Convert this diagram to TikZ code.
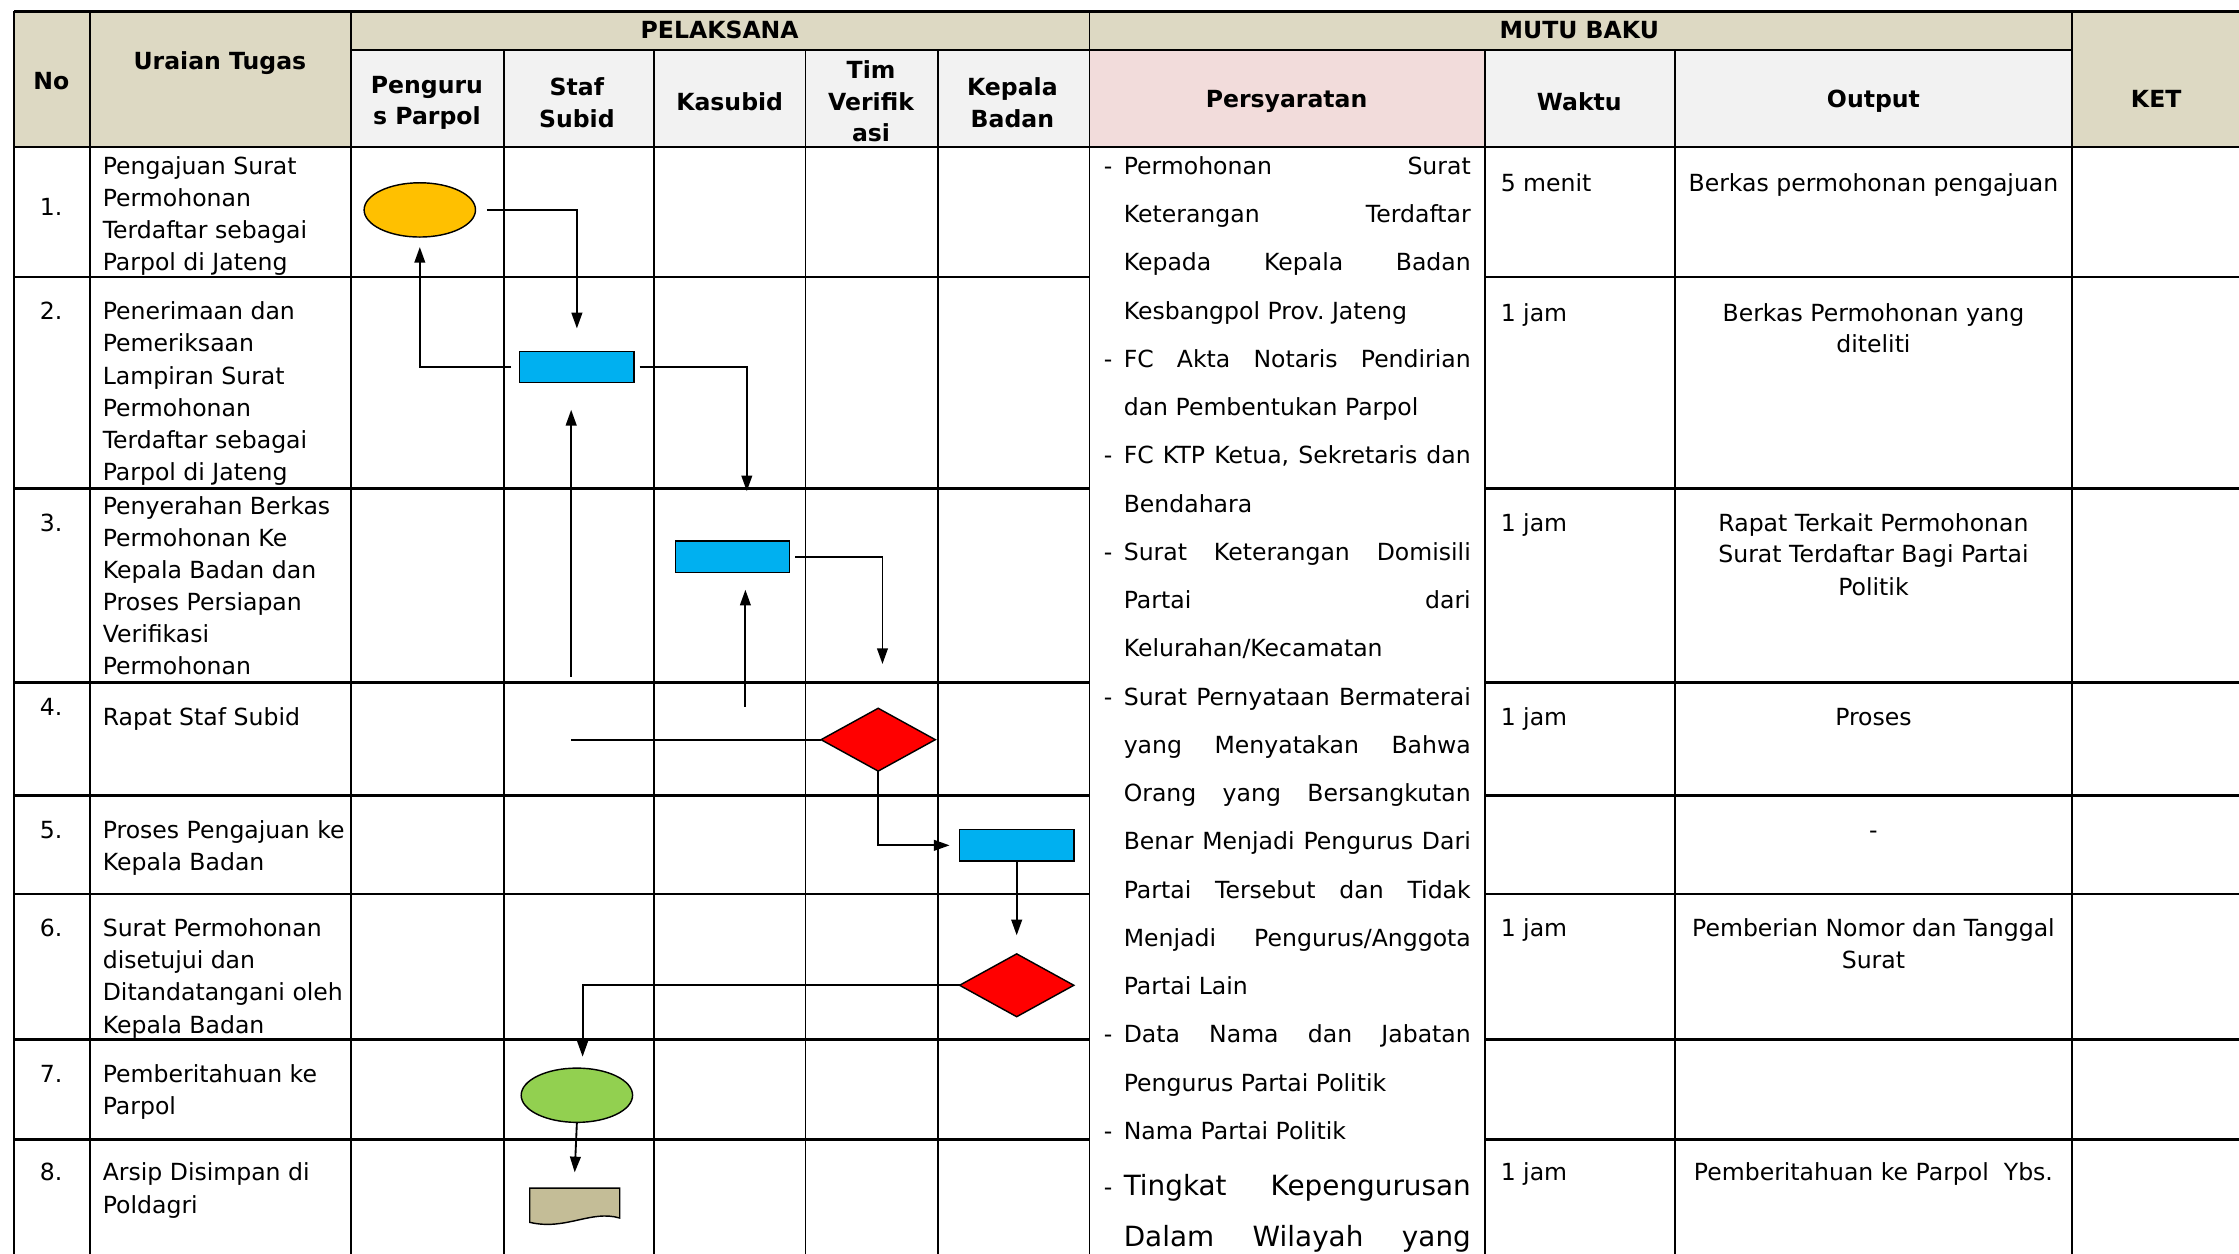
\documentclass[tikz,border=0pt]{standalone}
\usepackage{fontspec}
\setmainfont{DejaVu Sans}
\usetikzlibrary{shapes.geometric,arrows.meta}
\definecolor{hdrtan}{HTML}{DDD9C3}
\definecolor{hdrgray}{HTML}{F2F2F2}
\definecolor{hdrpink}{HTML}{F2DCDB}
\definecolor{fyellow}{HTML}{FFC000}
\definecolor{fblue}{HTML}{00B0F0}
\definecolor{fred}{HTML}{FF0000}
\definecolor{fgreen}{HTML}{92D050}
\definecolor{fdoc}{HTML}{C4BD97}
\frenchspacing
\begin{document}
\begin{tikzpicture}[x=1pt,y=-1pt,
  every node/.style={inner sep=0pt,outer sep=0pt,font=\fontsize{16.5}{22.5}\selectfont},
  hd/.style={font=\fontsize{16.5}{22}\selectfont\bfseries, align=center},
  txt/.style={anchor=base west},
  ctr/.style={anchor=base},
  big/.style={anchor=base west,font=\fontsize{19.5}{24}\selectfont},
  hline/.style={line width=1.8pt},
  vline/.style={line width=1.1pt},
  conn/.style={line width=1.3pt},
  arr/.style={conn,-{Triangle[length=11pt,width=7.5pt]}},
  proc/.style={rectangle,draw=black,line width=1pt,fill=fblue,minimum width=80pt,minimum height=22pt},
  dec/.style={diamond,draw=black,line width=1pt,fill=fred,minimum width=80pt,minimum height=44pt},
  term/.style={ellipse,draw=black,line width=1pt,minimum width=78pt,minimum height=38pt}
]
\useasboundingbox (0,0) rectangle (1568,878);
\clip (0,0) rectangle (1568,878);
\fill[white] (0,0) rectangle (1568,878);
% header fills
\fill[hdrtan] (10,8) rectangle (246,103);
\fill[hdrtan] (246,8) rectangle (1451,35);
\fill[hdrtan] (1451,8) rectangle (1568,103);
\fill[hdrgray] (246,35) rectangle (763,103);
\fill[hdrpink] (763,35) rectangle (1040,103);
\fill[hdrgray] (1040,35) rectangle (1451,103);
% horizontal lines
\draw[hline] (10,8) -- (1568,8);
\draw[vline] (246,35) -- (1451,35);
\draw[hline] (10,103) -- (1568,103);
\foreach \y in {194,342,478,557,626,728,798}{
  \draw[hline] (10,\y) -- (763,\y);
  \draw[hline] (1040,\y) -- (1568,\y);
}
% vertical lines
\foreach \x in {10,63,246,763,1451} \draw[vline] (\x,8) -- (\x,878);
\foreach \x in {353,458,564,657,1040,1173} \draw[vline] (\x,35) -- (\x,878);

% header texts
\node[hd] (hno) at (36,57) {No};
\node[hd] (hur) at (154,44) {Uraian Tugas};
\node[hd] (hpel) at (504,21) {PELAKSANA};
\node[hd] (hmutu) at (1106,21) {MUTU BAKU};
\node[hd] (hket) at (1510,69) {KET};
\node[hd] (hpp) at (299,72) {Penguru\\s Parpol};
\node[hd] (hss) at (404,72) {Staf\\Subid};
\node[hd] (hks) at (511,71) {Kasubid};
\node[hd] (htv) at (610,71) {Tim\\Verifik\\asi};
\node[hd] (hkb) at (709,72) {Kepala\\Badan};
\node[hd] (hps) at (901,71) {Persyaratan};
\node[hd] (hwk) at (1106,71) {Waktu};
\node[hd] (hout) at (1312,71) {Output};

% numbers
\foreach \n/\y in {1/151,2/224,3/372,4/501,5/587,6/656,7/758,8/827}
  \node[txt] (no\n) at (28,\y) {\n.};

% uraian tugas
\foreach \t [count=\i] in {Pengajuan Surat,Permohonan,Terdaftar sebagai,Parpol di Jateng}
  \node[txt] (ua\i) at (72,{122+22.5*(\i-1)}) {\t};
\foreach \t [count=\i] in {Penerimaan dan,Pemeriksaan,Lampiran Surat,Permohonan,Terdaftar sebagai,Parpol di Jateng}
  \node[txt] (ub\i) at (72,{224+22.5*(\i-1)}) {\t};
\foreach \t [count=\i] in {Penyerahan Berkas,Permohonan Ke,Kepala Badan dan,Proses Persiapan,Verifikasi,Permohonan}
  \node[txt] (uc\i) at (72,{360+22.5*(\i-1)}) {\t};
\node[txt] (ud1) at (72,508) {Rapat Staf Subid};
\foreach \t [count=\i] in {Proses Pengajuan ke,Kepala Badan}
  \node[txt] (ue\i) at (72,{587+22.5*(\i-1)}) {\t};
\foreach \t [count=\i] in {Surat Permohonan,disetujui dan,Ditandatangani oleh,Kepala Badan}
  \node[txt] (uf\i) at (72,{656+22.5*(\i-1)}) {\t};
\foreach \t [count=\i] in {Pemberitahuan ke,Parpol}
  \node[txt] (ug\i) at (72,{758+22.5*(\i-1)}) {\t};
\foreach \t [count=\i] in {Arsip Disimpan di,Poldagri}
  \node[txt] (uh\i) at (72,{827+22.5*(\i-1)}) {\t};

% persyaratan
\foreach \i/\t in {1/Permohonan Surat,2/Keterangan Terdaftar,3/Kepada Kepala Badan,5/FC Akta Notaris Pendirian,7/{FC KTP Ketua, Sekretaris dan},9/Surat Keterangan Domisili,10/Partai dari,12/Surat Pernyataan Bermaterai,13/yang Menyatakan Bahwa,14/Orang yang Bersangkutan,15/Benar Menjadi Pengurus Dari,16/Partai Tersebut dan Tidak,17/{Menjadi Pengurus/Anggota},19/Data Nama dan Jabatan}
  \node[txt] (ps\i) at (787,{122+33.8*(\i-1)}) {\makebox[243pt][s]{\t}};
\foreach \i/\t in {4/Kesbangpol Prov. Jateng,6/dan Pembentukan Parpol,8/Bendahara,11/{Kelurahan/Kecamatan},18/Partai Lain,20/Pengurus Partai Politik,21/Nama Partai Politik}
  \node[txt] (ps\i) at (787,{122+33.8*(\i-1)}) {\t};
\foreach \i in {1,5,7,9,12,19,21}
  \node[txt] (bl\i) at (773,{122+33.8*(\i-1)}) {-};
\node[txt] (bl22) at (773,837) {-};
\node[big] (ps22) at (787,837) {\makebox[243pt][s]{Tingkat Kepengurusan}};
\node[big] (ps23) at (787,873) {\makebox[243pt][s]{Dalam Wilayah yang}};

% waktu
\node[txt] (wk1) at (1051,134) {5 menit};
\foreach \n/\y in {2/225,3/372,4/508,6/656,8/827}
  \node[txt] (wk\n) at (1051,\y) {1 jam};

% output
\node[ctr] (ou1) at (1312,134) {Berkas permohonan pengajuan};
\node[ctr] (ou2a) at (1312,225) {Berkas Permohonan yang};
\node[ctr] (ou2b) at (1312,247) {diteliti};
\node[ctr] (ou3a) at (1312,372) {Rapat Terkait Permohonan};
\node[ctr] (ou3b) at (1312,394) {Surat Terdaftar Bagi Partai};
\node[ctr] (ou3c) at (1312,417) {Politik};
\node[ctr] (ou4) at (1312,508) {Proses};
\node[ctr] (ou5) at (1312,587) {-};
\node[ctr] (ou6a) at (1312,656) {Pemberian Nomor dan Tanggal};
\node[ctr] (ou6b) at (1312,678) {Surat};
\node[ctr] (ou8) at (1312,827) {Pemberitahuan ke Parpol\ \ Ybs.};

% flow shapes
\node[term,fill=fyellow] (e1) at (294,147) {};
\node[proc] (b1) at (404,257) {};
\node[proc] (b2) at (513,390) {};
\node[dec] (d1) at (615,518) {};
\node[proc] (b3) at (712,592) {};
\node[dec] (d2) at (712,690) {};
\node[term,fill=fgreen] (e2) at (404,767) {};
\coordinate (doc) at (402,832);
\draw[fill=fdoc,line width=1pt,shift={(doc)}] (-31,0) -- (32,0) -- (32,21)
  .. controls (12,15) and (-6,30) .. (-31,24) -- cycle;

% connectors
\coordinate (c3) at (523,344);
\coordinate (c4) at (618,465);
\coordinate (c5a) at (400,474);
\coordinate (c5b) at (400,287);
\coordinate (c6a) at (522,495);
\coordinate (c6b) at (522,413);
\coordinate (c7) at (400,518);
\coordinate (c10) at (408,740);
\draw[arr,shorten <=8pt,shorten >=16pt] (e1.east) -| (b1.north);
\draw[arr,shorten <=6pt,shorten >=7pt] (b1.west) -| (e1.south);
\draw[arr,shorten <=4pt] (b1.east) -| (c3);
\draw[arr,shorten <=4pt] (b2.east) -| (c4);
\draw[arr] (c5a) -- (c5b);
\draw[arr] (c6a) -- (c6b);
\draw[conn] (c7) -- (d1.west);
\draw[arr,shorten >=7pt] (d1.south) |- (b3.west);
\draw[arr,shorten >=13pt] (b3.south) -- (d2.north);
\draw[arr] (d2.west) -| (c10);
\draw[arr,shorten >=11pt] (e2.south) -- (doc);
\end{tikzpicture}
\end{document}
